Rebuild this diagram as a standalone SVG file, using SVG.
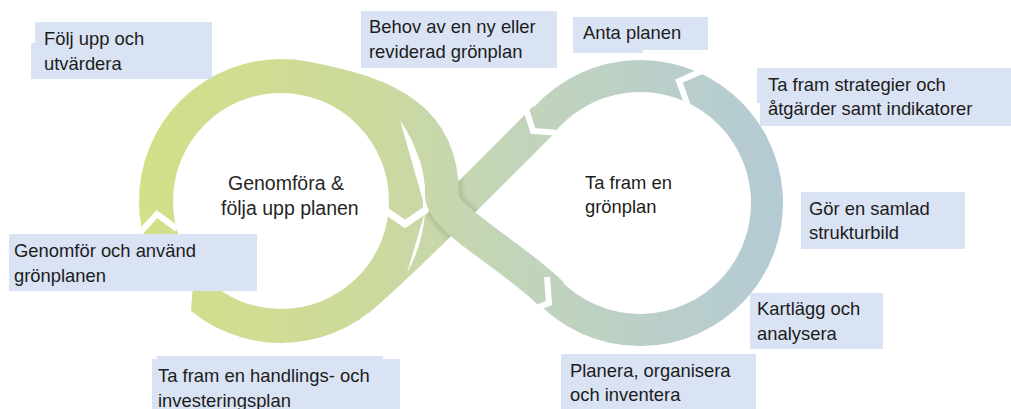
<svg xmlns="http://www.w3.org/2000/svg" width="1011" height="409" viewBox="0 0 1011 409">
<defs>
<style>
.band{fill:none;stroke:url(#g);stroke-width:34}
.gap{fill:none;stroke:#fff;stroke-width:6;stroke-linejoin:miter;stroke-linecap:butt}
.box{fill:#DAE3F3}
.t{font-family:'Liberation Sans',Arial,sans-serif;font-size:18.4px;fill:#1c1c1c}
.c{font-family:'Liberation Sans',Arial,sans-serif;font-size:19.5px;fill:#262626}
</style>
<linearGradient id="g" gradientUnits="userSpaceOnUse" x1="140" y1="0" x2="785" y2="0">
<stop offset="0" stop-color="#D4DF88"/>
<stop offset="0.35" stop-color="#CCDA9C"/>
<stop offset="0.55" stop-color="#C3D5B6"/>
<stop offset="0.75" stop-color="#BCD0C6"/>
<stop offset="1" stop-color="#B4CAD5"/>
</linearGradient>
<filter id="blur" x="-20%" y="-20%" width="140%" height="140%"><feGaussianBlur stdDeviation="3"/></filter>
<mask id="mB" maskUnits="userSpaceOnUse" x="0" y="0" width="1011" height="409">
<path d="M545.6,118 C503.6,160.4 389.5,274.9 358,299.5" fill="none" stroke="#fff" stroke-width="34"/>
</mask>
</defs>
<g id="connectors">
<circle class="band" cx="281" cy="201" r="125"/>
<path class="band" style="stroke-width:32" d="M548.65,291.22 A127,127 0 1 0 538.6,126.6"/>
<path id="bandB" class="band" d="M545.6,118 C503.6,160.4 389.5,274.9 358,299.5"/>
<path d="M302.7,77.9 C391.4,93.6 442,120 442,195 C442,220 508.9,252.3 551.8,294.4" fill="none" stroke="#5f705c" stroke-width="38" opacity="0.3" filter="url(#blur)" mask="url(#mB)"/>
<path id="bandA" class="band" d="M302.7,77.9 C391.4,93.6 442,120 442,195 C442,220 508.9,252.3 551.8,294.4"/>
<path fill="#fff" d="M400,120 L425,208 A144,144 0 0 0 400,120 Z"/>
<path fill="#fff" d="M425,212 L407,273 A145,145 0 0 0 425,212 Z"/>
<path class="gap" style="stroke-width:7" d="M386,211 L405,224 L427,209"/>
<path class="gap" d="M704,70 L679,81 L688,106"/>
<path class="gap" d="M524,103 L533,131 L559,133"/>
<path class="gap" d="M547,277 L549,303 L521,314"/>
<path class="gap" d="M138,235 L157,214 L177,229"/>
<polygon fill="#fff" points="190.5,316.8 192.6,289.4 217.6,282.2 195.6,258.6 150,280 160,310"/>
</g>
<g id="center-left">
<text class="c" x="228" y="190">Genomföra &amp;</text>
<text class="c" x="221" y="215">följa upp planen</text>
</g>
<g id="center-right">
<text class="t" x="585" y="189">Ta fram en</text>
<text class="t" x="585" y="213">grönplan</text>
</g>
<g id="node-folj-upp">
<rect class="box" x="31" y="43" width="150" height="36"/>
<rect class="box" x="35" y="22" width="177" height="57"/>
<text class="t" x="44" y="45">Följ upp och</text>
<text class="t" x="44" y="70">utvärdera</text>
</g>
<g id="node-behov">
<rect class="box" x="361" y="11" width="196" height="57"/>
<text class="t" x="369" y="33">Behov av en ny eller</text>
<text class="t" x="369" y="58">reviderad grönplan</text>
</g>
<g id="node-anta">
<rect class="box" x="573" y="20" width="70" height="33"/>
<rect class="box" x="573" y="17" width="135" height="33"/>
<text class="t" x="583" y="39">Anta planen</text>
</g>
<g id="node-strategier">
<rect class="box" x="757" y="68" width="100" height="35"/>
<rect class="box" x="760" y="68" width="251" height="58"/>
<text class="t" x="768" y="91">Ta fram strategier och</text>
<text class="t" x="768" y="115">åtgärder samt indikatorer</text>
</g>
<g id="node-strukturbild">
<rect class="box" x="801" y="192" width="164" height="57"/>
<text class="t" x="809" y="215">Gör en samlad</text>
<text class="t" x="809" y="239">strukturbild</text>
</g>
<g id="node-kartlagg">
<rect class="box" x="750" y="293" width="133" height="56"/>
<text class="t" x="757" y="315">Kartlägg och</text>
<text class="t" x="757" y="340">analysera</text>
</g>
<g id="node-planera">
<rect class="box" x="561" y="354" width="195" height="60"/>
<text class="t" x="570" y="377">Planera, organisera</text>
<text class="t" x="570" y="401">och inventera</text>
</g>
<g id="node-handlingsplan">
<rect class="box" x="157" y="356" width="226" height="30"/>
<rect class="box" x="152" y="359" width="248" height="55"/>
<text class="t" x="158" y="382">Ta fram en handlings- och</text>
<text class="t" x="158" y="407">investeringsplan</text>
</g>
<g id="node-genomfor">
<rect class="box" x="9" y="234" width="248" height="57"/>
<text class="t" x="14" y="257">Genomför och använd</text>
<text class="t" x="14" y="282">grönplanen</text>
</g>
</svg>
